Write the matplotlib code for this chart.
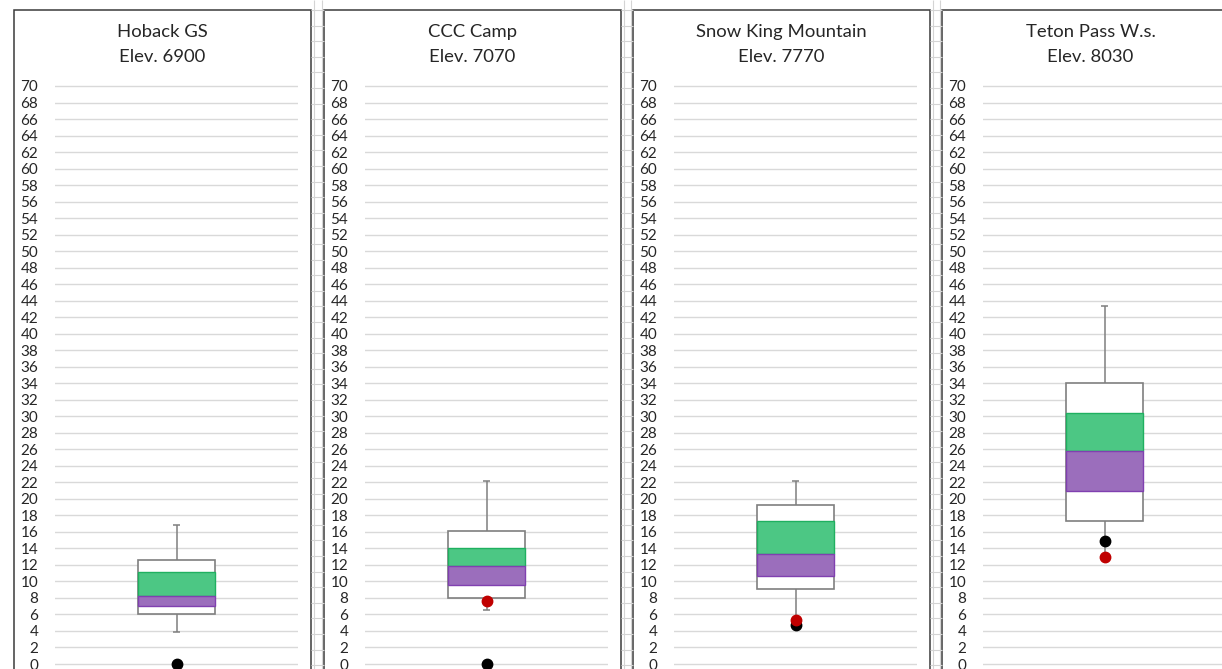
import numpy as np
import matplotlib.pyplot as plt
from matplotlib.patches import Rectangle

plt.rcParams['font.family'] = ['Lato', 'DejaVu Sans']

# station data
stations = ['Hoback GS', 'CCC Camp', 'Snow King Mountain', 'Teton Pass W.s.']
elevations = [6900, 7070, 7770, 8030]
whisker_low = [3.9, 6.5, 4.7, 13.0]
box_low = [6.0, 8.05, 9.1, 17.3]
purple_low = [7.0, 9.55, 10.7, 20.95]
median = [8.2, 11.85, 13.35, 25.8]
green_high = [11.1, 14.1, 17.35, 30.4]
box_high = [12.55, 16.1, 19.25, 34.0]
whisker_high = [16.8, 22.2, 22.2, 43.4]
black_dot = [0.0, 0.0, 4.7, 14.9]
red_dot = [np.nan, 7.6, 5.3, 13.0]
y_ticks = list(range(0, 71, 2))

W, H = 1222, 669
TEXT = '#262626'
GRID = '#d9d9d9'


def frac(x, y, w, h):
    return [x / W, 1 - (y + h) / H, w / W, h / H]


fig = plt.figure(figsize=(W / 100, H / 100), dpi=100)

# spreadsheet behind the charts
bg = fig.add_axes([0, 0, 1, 1])
bg.set_xlim(0, W)
bg.set_ylim(H, 0)
bg.axis('off')

lefts = [14, 324, 633, 942]
pw = 297
for i in range(len(lefts) - 1):
    x0, x1 = lefts[i] + pw, lefts[i + 1]
    for y in np.arange(10, H, 15.6):
        bg.hlines(y, x0, x1, color='#d4d4d4', lw=0.8)
    bg.vlines([x0 + 2.5, x1 - 2.5], 0, H, color='#d4d4d4', lw=0.8)

# y scale: 70 at 86px, 0 at 664px
px_per = (664 - 86) / 70
ax_top, ax_bot = 80, 669
ylim = ((664 - ax_bot) / px_per, (664 - ax_top) / px_per)

for i, left in enumerate(lefts):
    bg.add_patch(Rectangle((left, 9.5), pw, 700, facecolor='white',
                           edgecolor='#3a3a3a', lw=1.1))
    bg.text(left + pw / 2, 32, stations[i], ha='center', va='center',
            fontsize=13.3, color=TEXT)
    bg.text(left + pw / 2, 57, 'Elev. %d' % elevations[i], ha='center',
            va='center', fontsize=13.3, color=TEXT)

    ax = fig.add_axes(frac(left + 41, ax_top, 243, ax_bot - ax_top))
    ax.patch.set_visible(False)
    ax.set_xlim(0, 1)
    ax.set_ylim(*ylim)
    ax.set_yticks(y_ticks)
    ax.tick_params(axis='y', length=0, pad=12, labelsize=11, labelcolor=TEXT)
    ax.tick_params(axis='x', bottom=False, labelbottom=False)
    ax.grid(axis='y', color=GRID, lw=1)
    ax.set_axisbelow(True)
    for s in ax.spines.values():
        s.set_visible(False)

    bw = 77 / 243
    cw = 7 / 243
    # whiskers
    ax.vlines(0.5, box_high[i], whisker_high[i], color='#7f7f7f', lw=1.1, zorder=2)
    ax.vlines(0.5, whisker_low[i], box_low[i], color='#7f7f7f', lw=1.1, zorder=2)
    ax.hlines([whisker_high[i], whisker_low[i]], 0.5 - cw / 2, 0.5 + cw / 2,
              color='#7f7f7f', lw=1.1, zorder=2)
    # box
    ax.bar(0.5, box_high[i] - box_low[i], bottom=box_low[i], width=bw,
           facecolor='white', edgecolor='#7f7f7f', lw=1.2, zorder=3)
    ax.bar(0.5, green_high[i] - median[i], bottom=median[i], width=bw,
           facecolor='#4cc784', edgecolor='#1fb060', lw=1.0, zorder=4)
    ax.bar(0.5, median[i] - purple_low[i], bottom=purple_low[i], width=bw,
           facecolor='#9b6ebc', edgecolor='#8040b0', lw=1.0, zorder=4)
    # points
    ax.plot(0.5, black_dot[i], 'o', color='black', ms=7.5, zorder=5, clip_on=False)
    ax.plot(0.5, red_dot[i], 'o', color='#c00000', ms=7.5, zorder=6, clip_on=False)

plt.savefig('out.png', dpi=100)
